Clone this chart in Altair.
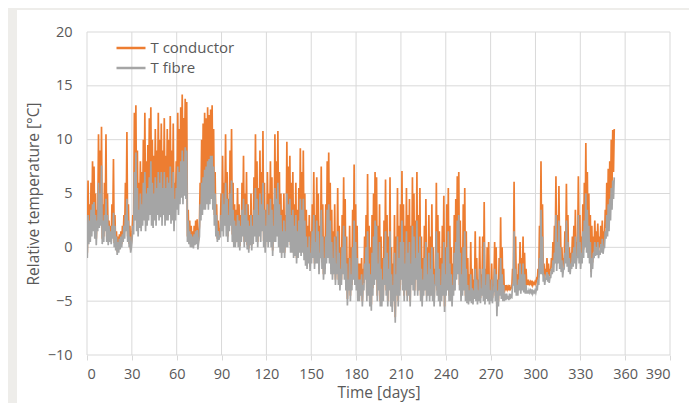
import altair as alt
import pandas as pd

# Daily envelope values (degrees C), days 0..352
cond_max = [
    6.2, 4.0, 6.0, 8.0, 7.5, 5.0, 3.5, 10.5, 9.0, 11.2,
    4.0, 6.0, 10.5, 5.0, 2.5, 2.0, 4.0, 8.2, 3.0, 1.5,
    1.0, 1.2, 1.5, 2.0, 3.0, 6.0, 10.7, 4.0, 2.0, 0.5,
    3.0, 12.5, 13.2, 9.0, 6.0, 8.0, 7.0, 10.0, 12.5, 8.0,
    9.5, 12.0, 13.0, 10.0, 8.5, 11.0, 9.0, 12.5, 10.0, 11.5,
    9.0, 12.0, 8.5, 11.0, 10.0, 12.2, 9.0, 11.5, 6.0, 8.0,
    12.5, 11.0, 13.0, 14.2, 12.0, 13.8, 13.5, 3.5, 2.5, 2.0,
    1.5, 2.0, 2.5, 2.6, 1.0, 6.0, 10.0, 11.5, 12.5, 12.0,
    13.0, 12.3, 12.8, 13.2, 11.0, 7.0, 4.0, 2.5, 1.5, 5.0,
    8.5, 6.0, 10.5, 7.0, 4.5, 9.0, 11.0, 6.0, 4.0, 3.5,
    5.5, 4.0, 3.0, 6.0, 8.5, 5.0, 7.0, 4.0, 3.0, 5.0,
    3.0, 6.5, 10.5, 8.0, 5.5, 9.0, 7.0, 10.8, 6.0, 3.5,
    7.0, 5.0, 8.0, 6.5, 4.0, 10.5, 8.0, 10.8, 7.0, 5.0,
    3.5, 5.0, 3.0, 9.8, 7.5, 8.5, 6.0, 7.0, 4.0, 6.0,
    3.5, 5.5, 9.2, 7.0, 9.0, 5.0, 3.5, 2.0, 3.0, 1.5,
    4.0, 7.0, 3.0, 6.5, 5.0, 2.0, 7.5, 4.0, 1.0, 4.0,
    8.0, 8.8, 6.0, 3.5, 1.5, 4.0, 1.0, 5.5, 2.0, 0.0,
    3.0, 6.5, 4.5, 1.0, -1.0, 2.0, 0.0, 3.5, 7.7, 4.0,
    2.0, -1.5, -1.5, -1.0, -2.0, 1.0, 3.0, 6.8, 2.0, 0.0,
    3.0, 5.0, 7.0, 6.5, 2.0, 4.0, 1.0, -1.0, 2.5, 6.3,
    3.0, 1.0, 6.5, 0.0, -1.5, 3.0, 1.0, 5.5, 2.0, 4.0,
    7.1, 4.0, 2.0, 5.5, 3.0, 4.5, 2.0, 6.5, 5.0, 2.5,
    7.0, 3.0, 5.5, 1.0, -1.0, 2.0, 4.5, 0.0, 3.0, 1.0,
    4.0, 0.0, -2.0, 6.0, 3.0, 1.5, -1.0, 2.0, 4.8, 0.0,
    4.0, 5.5, 2.0, 0.0, -1.5, 3.0, 4.5, 6.6, 7.0, 2.5,
    0.0, 4.0, 5.5, 1.5, -1.0, -2.5, 0.5, -2.0, -3.0, 1.5,
    -1.0, -3.0, 1.0, -2.5, 1.0, 4.2, -2.0, 0.0, 0.5, -3.0,
    -1.5, -3.5, 0.5, 0.0, -3.0, -1.0, 2.8, 0.0, -2.0, -3.5,
    -3.5, -3.7, -3.5, -3.8, -2.0, 6.1, 1.0, -2.5, -1.5, 0.5,
    -1.0, 1.0, -0.5, -2.0, -3.0, -3.2, -3.2, -3.1, -3.3, -3.2,
    -3.0, -2.0, 2.0, 8.0, 4.0, -1.5, -2.0, -1.0, -1.5, -2.0,
    -1.0, 0.5, 2.0, 6.6, 3.0, 5.7, 2.0, 0.0, -1.0, 1.5,
    5.9, 3.0, 0.0, -0.5, 1.0, 2.0, 3.5, 0.5, 6.6, 3.0,
    1.0, 4.0, 6.0, 9.7, 7.0, 5.0, 3.0, 2.0, 1.0, 2.5,
    1.5, 2.2, 1.0, 2.0, 2.5, 1.5, 3.5, 6.0, 7.3, 8.0,
    10.0, 10.9, 11.0,
]

cond_min = [
    -0.5, 1.0, 1.0, 1.8, 2.5, 1.5, 0.8, 2.5, 3.0, 3.0,
    0.8, 1.0, 2.5, 1.0, 0.6, 0.8, 0.6, 1.5, 0.4, 0.0,
    -0.4, -0.2, 0.1, 0.3, 0.8, 1.5, 2.5, 1.0, 0.3, -0.2,
    1.5, 2.5, 4.0, 2.5, 1.8, 3.0, 2.5, 3.5, 4.0, 2.5,
    3.5, 4.0, 5.0, 3.5, 3.0, 4.0, 3.5, 5.0, 4.0, 4.5,
    3.5, 5.0, 3.5, 4.0, 4.0, 5.0, 3.5, 4.0, 2.5, 4.0,
    5.5, 5.0, 6.0, 7.0, 6.0, 7.0, 6.5, 1.0, 0.6, 0.3,
    0.3, 0.2, 0.5, 0.6, 0.1, 2.0, 3.5, 4.0, 4.5, 4.5,
    5.0, 4.5, 5.0, 5.5, 4.5, 3.0, 1.8, 0.8, 1.0, 1.8,
    2.5, 2.0, 3.5, 2.0, 1.0, 2.5, 3.5, 1.2, 0.4, 0.4,
    1.0, 0.5, 0.1, 1.0, 2.0, 0.5, 1.2, 0.2, -0.1, 0.6,
    0.2, 1.0, 2.0, 1.5, 0.5, 2.0, 1.5, 2.5, 0.6, 0.0,
    1.2, 0.5, 1.5, 0.8, -0.3, 1.5, 1.5, 2.0, 1.0, 0.0,
    -0.5, 0.2, -0.5, 1.0, 1.0, 1.5, 0.2, 0.3, -0.5, -0.2,
    -1.0, -0.5, 0.5, 0.0, 0.5, -0.6, -1.2, -1.5, -1.0, -1.8,
    -1.0, -0.3, -1.5, -0.8, -1.0, -2.0, -0.3, -1.4, -2.5, -2.0,
    -0.5, 0.0, -1.0, -2.0, -2.5, -2.0, -3.0, -1.8, -3.0, -3.5,
    -3.0, -1.5, -2.3, -3.5, -4.8, -3.5, -4.5, -3.5, -2.0, -3.0,
    -3.5, -4.5, -4.5, -4.0, -5.0, -3.3, -2.0, -4.5, -4.0, -5.0,
    -5.3, -3.8, -2.5, -2.0, -4.5, -3.5, -5.0, -5.0, -4.5, -2.5,
    -4.0, -5.0, -3.0, -5.0, -5.5, -4.5, -6.5, -3.8, -5.0, -4.0,
    -2.0, -3.5, -4.5, -3.3, -4.5, -4.0, -5.0, -2.8, -3.5, -4.0,
    -2.0, -4.0, -3.5, -4.5, -5.0, -4.0, -3.5, -4.5, -4.0, -4.5,
    -4.0, -4.5, -5.0, -2.8, -4.0, -4.5, -5.0, -4.5, -4.0, -5.5,
    -4.0, -3.5, -4.5, -4.5, -5.0, -4.0, -3.5, -2.0, -1.5, -3.5,
    -4.5, -4.0, -3.5, -4.5, -4.7, -4.8, -4.5, -4.7, -4.8, -4.3,
    -4.5, -4.8, -4.5, -4.7, -4.0, -4.5, -4.8, -4.3, -4.5, -4.8,
    -4.5, -4.7, -3.5, -4.5, -5.8, -5.0, -4.0, -4.2, -4.3, -4.2,
    -4.0, -3.9, -4.0, -3.9, -3.7, -2.8, -3.5, -3.7, -3.8, -3.3,
    -3.5, -3.3, -3.4, -3.5, -3.5, -3.5, -3.4, -3.4, -3.5, -3.4,
    -3.4, -3.2, -2.8, -1.5, -1.8, -2.6, -2.9, -2.4, -2.6, -2.7,
    -2.2, -1.9, -1.6, -0.5, -1.5, -0.8, -1.4, -1.7, -2.2, -1.4,
    -0.8, -1.2, -1.7, -1.9, -1.4, -1.2, -0.8, -1.4, -0.2, -0.8,
    -1.4, -0.8, -0.2, 1.0, 0.3, -0.3, -0.9, -2.3, -1.4, -0.4,
    -0.2, 0.0, -0.4, 0.0, 0.2, 0.0, 0.8, 1.8, 2.2, 2.5,
    4.0, 5.5, 7.0,
]

fibre_max = [
    3.0, 2.5, 3.5, 4.0, 4.2, 3.0, 2.5, 6.0, 5.0, 7.6,
    2.5, 3.0, 4.5, 3.0, 2.0, 1.5, 2.0, 3.2, 2.0, 1.0,
    0.5, 0.8, 1.0, 1.2, 2.0, 3.0, 4.5, 2.5, 1.0, 0.0,
    2.0, 7.0, 8.8, 5.5, 3.5, 5.0, 4.0, 6.0, 7.0, 5.0,
    5.5, 6.5, 8.0, 6.0, 5.0, 6.5, 5.5, 7.0, 6.0, 7.0,
    5.5, 7.0, 5.5, 6.5, 6.0, 7.5, 5.5, 7.0, 4.5, 5.5,
    7.5, 7.0, 8.0, 9.0, 8.0, 9.3, 9.0, 2.5, 1.5, 1.2,
    1.0, 1.2, 1.5, 1.6, 0.5, 4.0, 6.0, 6.5, 7.2, 7.5,
    8.0, 8.2, 8.5, 8.5, 7.5, 5.0, 3.0, 1.5, 1.0, 3.0,
    5.0, 4.0, 6.0, 4.5, 3.0, 5.0, 6.2, 3.5, 2.5, 2.0,
    3.0, 2.5, 2.0, 3.5, 4.5, 3.0, 4.0, 2.5, 2.0, 3.0,
    2.0, 3.5, 5.5, 4.5, 3.0, 5.0, 4.0, 6.0, 3.5, 2.0,
    4.0, 3.0, 4.5, 3.5, 2.0, 5.5, 4.5, 6.0, 4.0, 3.0,
    1.5, 2.5, 1.5, 5.0, 4.0, 4.5, 3.0, 3.5, 2.0, 3.0,
    1.5, 2.5, 4.5, 3.5, 4.5, 2.5, 1.0, 0.0, 1.0, -0.5,
    1.5, 3.0, 0.5, 2.5, 1.5, -0.5, 3.5, 1.0, -1.0, 1.0,
    3.5, 4.0, 2.5, 0.5, -1.0, 1.0, -1.5, 1.5, -0.5, -2.0,
    0.0, 2.0, 1.0, -1.5, -3.0, -1.0, -2.5, 0.0, 2.5, 0.5,
    -1.0, -3.0, -3.0, -2.5, -3.5, -1.5, 0.0, 1.5, -1.5, -2.5,
    -0.5, 1.0, 2.5, 2.0, -1.5, 0.5, -2.0, -3.0, -1.0, 1.5,
    -0.5, -2.0, 1.5, -2.5, -3.5, -0.5, -2.5, 1.0, -1.0, 0.5,
    2.5, 0.5, -1.5, 1.5, -0.5, 0.5, -1.5, 2.0, 1.0, -1.0,
    2.5, -0.5, 1.0, -2.0, -3.0, -1.0, 0.5, -2.5, -0.5, -2.0,
    0.0, -2.5, -3.5, 1.5, -0.5, -2.0, -3.5, -1.5, 0.5, -2.5,
    0.0, 1.5, -1.5, -2.5, -3.5, -0.5, 0.5, 2.5, 3.0, -0.5,
    -2.5, 0.0, 1.5, -2.0, -3.5, -4.0, -2.5, -3.8, -4.0, -2.0,
    -3.0, -4.0, -2.0, -3.8, -2.0, 0.5, -3.5, -2.5, -2.5, -4.0,
    -3.0, -4.2, -2.0, -2.5, -4.0, -3.0, -1.0, -2.5, -3.5, -4.3,
    -4.3, -4.5, -4.3, -4.5, -3.5, 1.5, -2.0, -3.5, -3.0, -1.5,
    -2.5, -1.5, -2.5, -3.5, -4.0, -4.0, -4.0, -3.9, -4.1, -4.0,
    -3.8, -3.0, -1.0, 3.5, 1.0, -2.5, -2.8, -2.3, -2.5, -2.8,
    -2.0, -1.2, -0.5, 3.0, 0.5, 2.5, 0.0, -1.2, -2.0, -0.5,
    2.5, 0.5, -1.0, -1.5, -0.5, 0.0, 1.0, -0.8, 3.0, 0.5,
    -0.5, 1.5, 2.5, 5.0, 3.5, 2.0, 0.5, -1.0, -0.5, 0.5,
    0.0, 0.5, -0.3, 0.3, 0.8, 0.0, 1.5, 3.0, 4.0, 4.5,
    5.5, 6.2, 6.5,
]

fibre_min = [
    -1.0, 0.3, 0.5, 1.0, 1.5, 0.8, 0.2, 1.5, 1.8, 2.0,
    0.3, 0.5, 1.5, 0.5, 0.2, 0.5, 0.3, 0.8, 0.0, -0.3,
    -0.7, -0.5, -0.2, 0.0, 0.5, 0.8, 1.5, 0.5, 0.0, -0.5,
    0.8, 1.2, 2.5, 1.5, 1.0, 1.8, 1.5, 2.0, 2.5, 1.5,
    2.0, 2.5, 3.0, 2.0, 1.8, 2.5, 2.0, 3.0, 2.5, 2.8,
    2.0, 3.0, 2.0, 2.5, 2.5, 3.0, 2.2, 2.5, 1.5, 2.5,
    3.5, 3.0, 4.0, 4.6, 4.0, 4.8, 4.5, 0.5, 0.3, 0.0,
    0.0, -0.1, 0.2, 0.3, -0.2, 1.0, 2.5, 3.0, 3.5, 3.5,
    4.0, 3.5, 4.0, 4.5, 3.5, 2.0, 1.0, 0.5, 0.7, 1.0,
    1.5, 1.0, 2.0, 1.0, 0.5, 1.5, 2.0, 0.5, 0.0, 0.0,
    0.5, 0.0, -0.3, 0.5, 1.0, 0.0, 0.5, -0.2, -0.5, 0.2,
    -0.3, 0.3, 1.0, 0.5, 0.0, 1.0, 0.5, 1.5, 0.0, -0.5,
    0.5, 0.0, 0.5, 0.0, -0.8, 0.5, 0.5, 1.0, 0.0, -0.5,
    -1.0, -0.5, -1.0, 0.0, 0.0, 0.5, -0.5, -0.5, -1.0, -0.8,
    -1.5, -1.0, -0.5, -0.8, -0.5, -1.2, -1.7, -2.0, -1.5, -2.2,
    -1.5, -1.0, -2.0, -1.5, -1.5, -2.5, -1.0, -2.0, -3.0, -2.5,
    -1.5, -1.0, -1.5, -2.5, -3.0, -2.5, -3.5, -2.5, -3.5, -4.0,
    -3.5, -2.5, -3.0, -4.0, -5.4, -4.0, -5.0, -4.0, -3.0, -3.5,
    -4.0, -5.0, -5.0, -4.5, -5.5, -4.0, -3.0, -5.0, -4.5, -5.5,
    -5.9, -4.5, -3.5, -3.0, -5.0, -4.0, -5.5, -5.5, -5.0, -3.5,
    -4.5, -5.5, -4.0, -5.5, -6.0, -5.0, -7.0, -4.5, -5.5, -4.5,
    -3.0, -4.0, -5.0, -4.0, -5.0, -4.5, -5.5, -3.5, -4.0, -4.5,
    -3.0, -4.5, -4.0, -5.0, -5.5, -4.5, -4.0, -5.0, -4.5, -5.0,
    -4.5, -5.0, -5.5, -3.5, -4.5, -5.0, -5.5, -5.0, -4.5, -6.0,
    -4.5, -4.0, -5.0, -5.0, -5.5, -4.5, -4.0, -3.0, -2.5, -4.0,
    -5.0, -4.5, -4.0, -5.0, -5.2, -5.3, -5.0, -5.2, -5.3, -4.8,
    -5.0, -5.3, -5.0, -5.2, -4.5, -5.0, -5.3, -4.8, -5.0, -5.3,
    -5.0, -5.2, -4.0, -5.0, -6.4, -5.5, -4.5, -4.8, -5.0, -5.0,
    -4.9, -4.8, -4.9, -4.8, -4.6, -3.5, -4.2, -4.5, -4.5, -4.0,
    -4.3, -4.0, -4.2, -4.3, -4.3, -4.3, -4.2, -4.2, -4.3, -4.2,
    -4.2, -4.0, -3.5, -2.5, -2.5, -3.2, -3.5, -3.0, -3.2, -3.3,
    -2.8, -2.5, -2.3, -1.5, -2.2, -1.5, -2.0, -2.3, -2.8, -2.0,
    -1.5, -1.8, -2.3, -2.5, -2.0, -1.8, -1.5, -2.0, -1.0, -1.5,
    -2.0, -1.5, -1.0, 0.0, -0.5, -1.0, -1.5, -2.8, -2.0, -1.0,
    -0.8, -0.7, -1.0, -0.7, -0.5, -0.6, 0.0, 0.8, 1.0, 1.5,
    2.5, 3.5, 4.5,
]

series_names = ["T conductor", "T fibre"]
series_colors = ["#ED7D31", "#A5A5A5"]
x_ticks = list(range(0, 391, 30))
y_ticks = list(range(-10, 21, 5))

n = min(len(cond_max), len(cond_min), len(fibre_max), len(fibre_min))
rows = []
for d in range(n):
    rows.append({"t": d + 0.2, "v": cond_min[d], "s": series_names[0]})
    rows.append({"t": d + 0.7, "v": cond_max[d], "s": series_names[0]})
for d in range(n):
    rows.append({"t": d + 0.2, "v": fibre_min[d], "s": series_names[1]})
    rows.append({"t": d + 0.7, "v": fibre_max[d], "s": series_names[1]})
df = pd.DataFrame(rows)

FONT = "Open Sans"
GRID = "#D9D9D9"
TXT = "#595959"

x_scale = alt.Scale(domain=[0, 390], nice=False, zero=False)
y_scale = alt.Scale(domain=[-10, 20], nice=False, zero=False)

x_axis = alt.Axis(
    values=x_ticks,
    title="Time [days]",
    grid=False,
    domain=False,
    ticks=True,
    tickSize=5,
    tickColor=GRID,
    labelPadding=7,
    titlePadding=5,
    zindex=1,
)
y_axis = alt.Axis(
    values=y_ticks,
    title="Relative temperature [°C]",
    grid=False,
    domain=False,
    ticks=False,
    labelPadding=15,
    titlePadding=6,
    zindex=1,
)

color = alt.Color(
    "s:N",
    scale=alt.Scale(domain=series_names, range=series_colors),
    legend=alt.Legend(
        title=None,
        orient="none",
        legendX=32.5,
        legendY=4.5,
        symbolType="M-1.45,0H1.45",
        symbolSize=400,
        symbolStrokeWidth=2.5,
        labelFont=FONT,
        labelFontSize=15,
        labelColor=TXT,
        labelOffset=8,
        rowPadding=0,
        padding=0,
    ),
)

x_enc = alt.X("t:Q", scale=x_scale, axis=x_axis, title="Time [days]")
y_enc = alt.Y("v:Q", scale=y_scale, axis=y_axis, title="Relative temperature [°C]")

panel = alt.Chart(pd.DataFrame({"k": [0]})).mark_rect(
    color="white", clip=False
).encode(
    x=alt.value(-70), x2=alt.value(700), y=alt.value(-22), y2=alt.value(420)
)

vgrid = alt.Chart(pd.DataFrame({"t": x_ticks})).mark_rule(
    color=GRID, strokeWidth=1
).encode(x=x_enc)

hgrid = alt.Chart(pd.DataFrame({"v": y_ticks})).mark_rule(
    color=GRID, strokeWidth=1
).encode(y=y_enc)

cond = alt.Chart(df).transform_filter(
    alt.datum.s == series_names[0]
).mark_line(strokeWidth=1.7, clip=True).encode(x=x_enc, y=y_enc, color=color, order="t:Q")

fib = alt.Chart(df).transform_filter(
    alt.datum.s == series_names[1]
).mark_line(strokeWidth=1.7, clip=True).encode(x=x_enc, y=y_enc, color=color, order="t:Q")

chart = alt.layer(panel, vgrid, hgrid, cond, fib).properties(
    width=583,
    height=323,
    autosize=alt.AutoSizeParams(type="none"),
    padding={"left": 79, "top": 24, "right": 19, "bottom": 48},
    background="#EEEDEA",
).configure_view(
    stroke=None
).configure_axis(
    labelFont=FONT,
    labelFontSize=14.5,
    labelColor=TXT,
    titleFont=FONT,
    titleFontSize=15.5,
    titleColor=TXT,
    titleFontWeight="normal",
)

chart.save("out.html", embed_options={"renderer": "svg", "actions": False})
